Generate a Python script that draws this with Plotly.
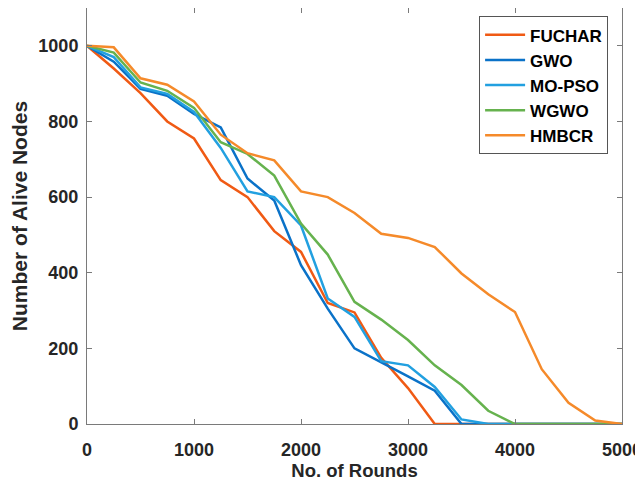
import plotly.graph_objects as go

rounds = list(range(0, 5001, 250))
fuchar = [1000, 940, 875, 800, 755, 645, 600, 510, 455, 320, 295, 175, 95, 0, 0, 0, 0, 0, 0, 0, 0]
gwo    = [1000, 958, 886, 868, 820, 784, 649, 591, 420, 305, 200, 164, 126, 88, 0, 0, 0, 0, 0, 0, 0]
mopso  = [1000, 970, 890, 873, 825, 730, 615, 600, 525, 332, 283, 166, 155, 98, 12, 0, 0, 0, 0, 0, 0]
wgwo   = [1000, 982, 903, 881, 836, 745, 714, 657, 530, 448, 323, 276, 222, 155, 103, 35, 0, 0, 0, 0, 0]
hmbcr  = [1000, 996, 914, 897, 853, 765, 716, 697, 615, 600, 558, 503, 492, 468, 398, 343, 296, 145, 56, 9, 0]

series = [
    ("FUCHAR", fuchar, "#F05A14"),
    ("GWO", gwo, "#0A72C8"),
    ("MO-PSO", mopso, "#22A0E0"),
    ("WGWO", wgwo, "#66B24E"),
    ("HMBCR", hmbcr, "#F58A2A"),
]

FONT = "Liberation Sans"

fig = go.Figure()
for name, vals, col in series:
    fig.add_trace(go.Scatter(x=rounds, y=vals, mode="lines", name=name,
                             line=dict(color=col, width=2.5)))

axis_common = dict(
    showline=True, linecolor="#7a7a7a", linewidth=1, mirror="ticks",
    ticks="inside", ticklen=5, tickcolor="#7a7a7a", showgrid=False, zeroline=False,
    automargin=False,
    tickfont=dict(family=FONT, size=18, color="#262626", weight="bold"),
)
fig.update_xaxes(range=[0, 5000], tickvals=[0, 1000, 2000, 3000, 4000, 5000],
                 ticklabelstandoff=9,
                 title=dict(text="No. of Rounds", font=dict(family=FONT, size=18.5, color="#262626", weight="bold"), standoff=5),
                 **axis_common)
fig.update_yaxes(range=[0, 1100], tickvals=[0, 200, 400, 600, 800, 1000],
                 ticklabelstandoff=4,
                 title=dict(text="Number of Alive Nodes", font=dict(family=FONT, size=21, color="#262626", weight="bold"), standoff=8),
                 **axis_common)

fig.update_layout(
    width=643, height=485,
    margin=dict(l=79, r=29, t=0, b=69, autoexpand=False),
    plot_bgcolor="white", paper_bgcolor="white",
    showlegend=True,
    legend=dict(x=0.974, y=0.98, xanchor="right", yanchor="top",
                bordercolor="#555555", borderwidth=1, bgcolor="white",
                font=dict(family=FONT, size=17, color="#000000", weight="bold"),
                tracegroupgap=0, itemwidth=40),
)

fig.write_html("out.html")
